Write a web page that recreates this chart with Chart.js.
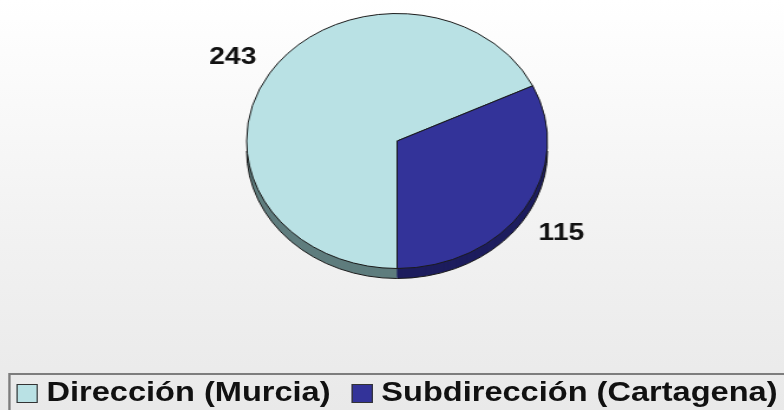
<!DOCTYPE html>
<html>
<head>
<meta charset="utf-8">
<script src="https://cdn.jsdelivr.net/npm/chart.js@4/dist/chart.umd.min.js"></script>
<style>
  html, body { margin: 0; padding: 0; }
  body {
    width: 784px; height: 410px; overflow: hidden; position: relative;
    background: linear-gradient(to bottom, #ffffff 0%, #f2f2f2 55%, #e9e9e9 100%);
  }
  /* the whole picture is stretched wider than tall, so draw narrow and scale */
  #stage {
    position: absolute; left: 0; top: 0; width: 665px; height: 410px;
    transform: scaleX(1.18); transform-origin: 0 0;
  }
  #wrap { position: absolute; left: 0; top: 0; width: 665px; height: 410px; }
  #legend {
    position: absolute; left: 6.8px; top: 373px; width: 700px; height: 60px;
    border: 2px solid #7d7d7d; box-sizing: border-box;
    display: flex; align-items: flex-start; padding-left: 5.6px;
    font-family: "Liberation Sans", Arial, sans-serif; font-weight: bold;
    font-size: 27.6px; line-height: 27px; color: #111;
  }
  .item { display: flex; align-items: flex-start; margin-right: 18px; }
  .box { width: 16px; height: 17px; border: 1px solid #333; margin-top: 9px; margin-right: 7px; }
  .txt { padding-top: 2.5px; white-space: nowrap; }
</style>
</head>
<body>
<div id="stage">
  <div id="wrap"><canvas id="myChart"></canvas></div>
  <div id="legend"></div>
</div>
<script>
// datos del gráfico
const labels = ['Dirección (Murcia)', 'Subdirección (Cartagena)'];
const values = [243, 115];
const colors = ['#B9E1E4', '#333399'];
const sideColors = ['#5f7d7e', '#1d1d5e'];

// leyenda
const legend = document.getElementById('legend');
labels.forEach(function (name, i) {
    const item = document.createElement('div');
    item.className = 'item';
    const box = document.createElement('div');
    box.className = 'box';
    box.style.background = colors[i];
    const txt = document.createElement('div');
    txt.className = 'txt';
    txt.textContent = name;
    item.appendChild(box);
    item.appendChild(txt);
    legend.appendChild(item);
});

// borde 3D debajo del pastel
const sidePlugin = {
    id: 'side',
    beforeDatasetsDraw(chart) {
        const ctx = chart.ctx;
        const arcs = chart.getDatasetMeta(0).data;
        ctx.save();
        for (let d = 10; d >= 1; d--) {
            arcs.forEach(function (arc, i) {
                ctx.beginPath();
                ctx.moveTo(arc.x, arc.y + d);
                ctx.arc(arc.x, arc.y + d, arc.outerRadius, arc.startAngle, arc.endAngle);
                ctx.closePath();
                ctx.fillStyle = sideColors[i];
                ctx.fill();
            });
        }
        const a0 = arcs[0];
        ctx.beginPath();
        ctx.arc(a0.x, a0.y + 10, a0.outerRadius, 0, Math.PI);
        ctx.strokeStyle = '#1a1a1a';
        ctx.lineWidth = 1;
        ctx.stroke();
        ctx.restore();
    }
};

// etiquetas con los valores
const valuePlugin = {
    id: 'values',
    afterDatasetsDraw(chart) {
        const ctx = chart.ctx;
        const arcs = chart.getDatasetMeta(0).data;
        ctx.save();
        ctx.font = 'bold 24px "Liberation Sans", Arial, sans-serif';
        ctx.fillStyle = '#111';
        ctx.textAlign = 'center';
        ctx.textBaseline = 'alphabetic';
        arcs.forEach(function (arc, i) {
            const mid = (arc.startAngle + arc.endAngle) / 2;
            const r = arc.outerRadius + 37;
            const x = arc.x + Math.cos(mid) * r;
            const y = arc.y + Math.sin(mid) * r;
            ctx.fillText(String(values[i]), x, y + 11);
        });
        ctx.restore();
    }
};

const ctx = document.getElementById('myChart').getContext('2d');
const myChart = new Chart(ctx, {
    type: 'pie',
    data: {
        labels: labels,
        datasets: [{
            data: values,
            backgroundColor: colors,
            borderColor: '#1a1a1a',
            borderWidth: 1,
        }],
    },
    options: {
        responsive: true,
        maintainAspectRatio: false,
        animation: false,
        rotation: 180,
        layout: { padding: { top: 13, bottom: 141, left: 8, right: 0 } },
        plugins: {
            legend: { display: false },
            tooltip: { enabled: false },
        },
    },
    plugins: [sidePlugin, valuePlugin],
});
</script>
</body>
</html>
